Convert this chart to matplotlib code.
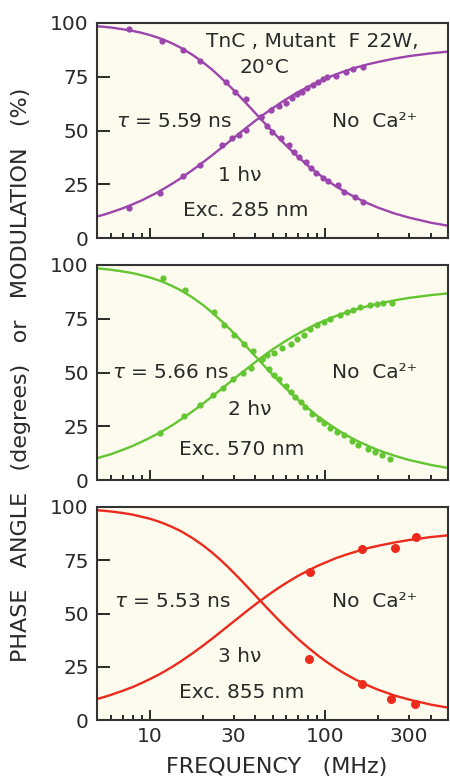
import matplotlib
matplotlib.use("Agg")
import matplotlib.pyplot as plt
from matplotlib.ticker import FixedLocator, NullFormatter, FixedFormatter

# fitted curves at these frequencies (MHz)
curve_freq = [5, 5.5, 6, 7, 8, 9, 10, 11, 12, 13.5, 15, 17.5, 20, 22.5, 25, 27.5, 30, 33, 35,
              40, 45, 50, 55, 60, 70, 80, 90, 100, 115, 130, 150, 175, 200, 250, 300, 400, 500]

phase_fit_1 = [10.0, 10.9, 11.9, 13.8, 15.7, 17.5, 19.4, 21.1, 22.9, 25.4, 27.8, 31.6, 35.1,
               38.3, 41.3, 44.0, 46.5, 49.2, 50.9, 54.6, 57.7, 60.3, 62.6, 64.6, 67.9, 70.4,
               72.5, 74.1, 76.1, 77.7, 79.3, 80.8, 81.9, 83.5, 84.6, 85.9, 86.7]
mod_fit_1 = [98.5, 98.2, 97.9, 97.1, 96.3, 95.4, 94.4, 93.3, 92.2, 90.4, 88.5, 85.2, 81.8,
             78.5, 75.1, 71.9, 68.8, 65.3, 63.1, 58.0, 53.5, 49.5, 46.0, 42.9, 37.7, 33.5,
             30.2, 27.4, 24.0, 21.4, 18.7, 16.1, 14.1, 11.3, 9.5, 7.1, 5.7]
phase_fit_2 = [10.1, 11.1, 12.0, 14.0, 15.9, 17.8, 19.6, 21.4, 23.1, 25.6, 28.1, 31.9, 35.4,
               38.7, 41.6, 44.4, 46.9, 49.6, 51.2, 54.9, 58.0, 60.7, 62.9, 64.9, 68.1, 70.6,
               72.7, 74.3, 76.3, 77.8, 79.4, 80.9, 82.0, 83.6, 84.7, 86.0, 86.8]
mod_fit_2 = [98.5, 98.1, 97.8, 97.0, 96.2, 95.2, 94.2, 93.1, 92.0, 90.1, 88.2, 84.9, 81.5,
             78.1, 74.7, 71.5, 68.4, 64.9, 62.6, 57.5, 53.0, 49.0, 45.5, 42.4, 37.3, 33.2,
             29.8, 27.1, 23.8, 21.1, 18.4, 15.9, 13.9, 11.2, 9.3, 7.0, 5.6]
phase_fit_3 = [9.9, 10.8, 11.8, 13.7, 15.5, 17.4, 19.2, 20.9, 22.6, 25.1, 27.5, 31.3, 34.8,
               38.0, 41.0, 43.7, 46.2, 48.9, 50.6, 54.3, 57.4, 60.1, 62.4, 64.4, 67.7, 70.2,
               72.3, 73.9, 76.0, 77.5, 79.1, 80.7, 81.8, 83.4, 84.5, 85.9, 86.7]
mod_fit_3 = [98.5, 98.2, 97.9, 97.2, 96.4, 95.4, 94.5, 93.4, 92.3, 90.5, 88.7, 85.4, 82.1,
             78.8, 75.5, 72.3, 69.2, 65.7, 63.5, 58.4, 53.9, 49.9, 46.4, 43.3, 38.0, 33.9,
             30.5, 27.7, 24.3, 21.6, 18.8, 16.2, 14.2, 11.4, 9.6, 7.2, 5.8]

# measured points, panel 1 (1 photon)
phase_f_1 = [7.6, 11.4, 15.4, 19.4, 25.8, 29.4, 32.1, 35.1, 42.8, 48.8, 54.5, 59.5, 64.9,
             69.3, 74.1, 79.1, 84.6, 90.3, 96.5, 101.7, 115.2, 131.5, 143.4, 163.7]
phase_1 = [13.8, 20.8, 28.8, 34.0, 43.3, 46.4, 47.9, 50.2, 56.1, 59.5, 61.4, 62.9, 65.0,
           67.0, 68.0, 69.6, 71.2, 72.7, 73.8, 74.7, 75.3, 77.3, 78.5, 79.7]
mod_f_1 = [7.6, 11.7, 15.5, 19.4, 27.3, 30.7, 35.1, 42.8, 46.7, 49.9, 55.7, 62.2, 66.4,
           70.9, 77.5, 82.8, 88.4, 96.5, 103.1, 117.7, 128.5, 146.7, 163.7]
mod_1 = [97.1, 91.8, 87.4, 82.5, 72.7, 68.0, 64.5, 56.1, 52.1, 49.4, 46.4, 43.3, 40.1,
         37.8, 35.5, 32.4, 30.1, 27.8, 26.5, 24.7, 21.5, 19.2, 16.9]

# panel 2 (2 photon)
phase_f_2 = [11.4, 15.6, 19.4, 22.9, 26.0, 29.6, 33.8, 37.6, 43.8, 46.8, 51.0, 56.9, 63.4,
             69.1, 75.4, 82.3, 89.8, 97.8, 106.7, 121.6, 132.7, 144.6, 157.8, 179.8, 196.2,
             213.8, 238.5]
phase_2 = [22.0, 29.8, 34.7, 39.4, 42.8, 46.8, 49.8, 52.1, 56.1, 58.0, 59.2, 61.4, 63.4,
           65.4, 67.6, 70.4, 71.9, 73.5, 75.0, 76.9, 78.1, 78.9, 80.5, 81.5, 82.0, 82.5, 82.5]
mod_f_2 = [11.9, 15.8, 23.3, 26.6, 30.3, 34.5, 38.5, 43.8, 47.8, 51.0, 54.4, 59.4, 63.4,
           67.6, 72.2, 77.0, 84.1, 91.6, 97.8, 106.7, 116.5, 127.0, 141.6, 154.3, 175.8,
           191.9, 209.4, 233.3]
mod_2 = [94.0, 88.2, 78.1, 72.2, 67.6, 63.4, 59.9, 56.1, 51.8, 48.7, 46.8, 43.7, 40.9,
         38.6, 36.3, 34.0, 30.8, 28.5, 26.7, 24.3, 22.3, 20.8, 18.0, 16.4, 14.3, 13.0, 11.5, 9.9]

# panel 3 (3 photon)
phase_f_3 = [82.1, 161.4, 248.3, 330.1]
phase_3 = [69.6, 80.1, 80.6, 86.1]
mod_f_3 = [80.3, 161.4, 237.4, 323.2]
mod_3 = [28.5, 16.9, 9.9, 7.4]

colors = ["#9b45ad", "#64c532", "#ec2a1e"]
taus = ["5.59", "5.66", "5.53"]
photons = ["1", "2", "3"]
exc = ["285", "570", "855"]

plt.rcParams['font.family'] = ['DejaVu Sans']
txt_col = "#2a2a2a"
fs = 14.5

fig = plt.figure(figsize=(4.5, 7.78), dpi=100)
W, H = 450.0, 778.0
left, right = 97, 448
panels_px = [(23, 238), (265, 480), (507, 720)]

panel_data = [
    (phase_fit_1, mod_fit_1, phase_f_1, phase_1, mod_f_1, mod_1),
    (phase_fit_2, mod_fit_2, phase_f_2, phase_2, mod_f_2, mod_2),
    (phase_fit_3, mod_fit_3, phase_f_3, phase_3, mod_f_3, mod_3),
]
# text positions in axes fraction: tau, No Ca, h nu, Exc
text_pos = [
    [(0.22, 0.54), (0.79, 0.54), (0.406, 0.293), (0.423, 0.13)],
    [(0.21, 0.502), (0.79, 0.502), (0.434, 0.326), (0.411, 0.14)],
    [(0.216, 0.554), (0.79, 0.554), (0.406, 0.296), (0.413, 0.131)],
]

for i, (top, bot) in enumerate(panels_px):
    ax = fig.add_axes([left / W, 1 - bot / H, (right - left) / W, (bot - top) / H])
    ax.set_facecolor("#fdfbee")
    pf, mf, pfx, py, mfx, my = panel_data[i]
    c = colors[i]
    ms = 6.5 if i == 2 else 4.5
    ax.plot(curve_freq, pf, color=c, lw=1.7, zorder=2)
    ax.plot(curve_freq, mf, color=c, lw=1.7, zorder=2)
    ax.plot(pfx, py, 'o', color=c, ms=ms, mec='none', zorder=3)
    ax.plot(mfx, my, 'o', color=c, ms=ms, mec='none', zorder=3)

    ax.set_xscale('log')
    ax.set_xlim(5, 500)
    ax.set_ylim(0, 100)
    ax.xaxis.set_major_locator(FixedLocator([10, 100]))
    ax.xaxis.set_minor_locator(FixedLocator([6, 7, 8, 9, 20, 30, 40, 50, 60, 70, 80, 90,
                                             200, 300, 400]))
    ax.yaxis.set_major_locator(FixedLocator([0, 25, 50, 75, 100]))
    ax.yaxis.set_minor_locator(FixedLocator([]))
    ax.tick_params(axis='y', which='major', direction='in', length=9, width=1.4,
                   colors=txt_col, labelsize=fs, pad=6)
    ax.tick_params(axis='x', which='major', direction='in', length=7, width=1.4,
                   colors=txt_col, labelsize=fs, pad=5)
    ax.tick_params(axis='x', which='minor', direction='in', length=3.8, width=1.4,
                   colors=txt_col, labelsize=fs, pad=5)
    ax.tick_params(top=False, right=False, which='both')
    if i == 2:
        ax.xaxis.set_major_formatter(FixedFormatter(["10", "100"]))
        ax.xaxis.set_minor_formatter(FixedFormatter(["", "", "", "", "", "30", "", "", "",
                                                     "", "", "", "", "300", ""]))
    else:
        ax.xaxis.set_major_formatter(NullFormatter())
        ax.xaxis.set_minor_formatter(NullFormatter())
    for s in ax.spines.values():
        s.set_linewidth(1.5)
        s.set_color("#333333")

    tp = text_pos[i]
    ax.text(*tp[0], r"$\tau$ = " + taus[i] + " ns", transform=ax.transAxes, ha='center',
            va='center', fontsize=fs, color=txt_col)
    ax.text(*tp[1], "No  Ca\u00b2\u207a", transform=ax.transAxes, ha='center',
            va='center', fontsize=fs, color=txt_col)
    ax.text(*tp[2], photons[i] + " h\u03bd", transform=ax.transAxes, ha='center',
            va='center', fontsize=fs, color=txt_col)
    ax.text(*tp[3], "Exc. " + exc[i] + " nm", transform=ax.transAxes, ha='center',
            va='center', fontsize=fs, color=txt_col)
    if i == 0:
        ax.text(0.614, 0.912, "TnC , Mutant  F 22W,", transform=ax.transAxes, ha='center',
                va='center', fontsize=fs, color=txt_col)
        ax.text(0.477, 0.795, "20\u00b0C", transform=ax.transAxes, ha='center',
                va='center', fontsize=fs, color=txt_col)

fig.text(277 / W, 1 - 767 / H, "FREQUENCY   (MHz)", ha='center', va='center',
         fontsize=16, color=txt_col)
fig.text(21 / W, 1 - 375 / H, "PHASE   ANGLE   (degrees)   or   MODULATION   (%)",
         rotation=90, ha='center', va='center', fontsize=16, color=txt_col)

fig.savefig("out.png", dpi=100, facecolor="white")
